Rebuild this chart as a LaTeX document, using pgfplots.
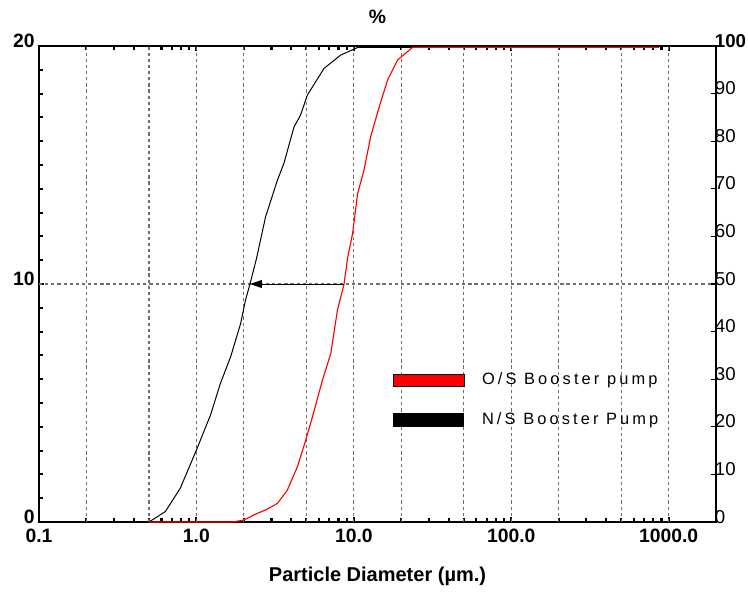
\documentclass[border=0pt]{standalone}
\usepackage{pgfplots}
\pgfplotsset{compat=1.18}
\usepackage{fontspec}
\setmainfont{Liberation Sans}
\newfontfamily\legendfont[LetterSpace=19]{Liberation Sans}
\usetikzlibrary{arrows.meta}
\definecolor{gridgray}{RGB}{110,110,110}
\begin{document}
\begin{tikzpicture}
\begin{axis}[
  name=ax,
  scale only axis,
  width=507.75pt, height=357pt,
  xmode=log,
  xmin=0.1, xmax=2000,
  ymin=0, ymax=100,
  clip=false,
  axis line style={black, line width=0.9pt},
  /pgf/number format/assume math mode=true,
  xtick={0.1,1,10,100,1000},
  xticklabels={0.1,1.0,10.0,100.0,1000.0},
  minor xtick={0.2,0.3,0.4,0.5,0.6,0.7,0.8,0.9,2,3,4,5,6,7,8,9,20,30,40,50,60,70,80,90,200,300,400,500,600,700,800,900},
  ytick={0,50,100},
  yticklabels={0,10,20},
  minor y tick num=9,
  ytick pos=left,
  tick align=inside,
  major tick length=3.5pt,
  minor tick length=3pt,
  every tick/.style={black, line width=1.6pt},
  xticklabel style={font=\fontsize{14.5}{15}\selectfont\bfseries, inner sep=2pt, yshift=-3pt},
  yticklabel style={font=\fontsize{14.5}{15}\selectfont\bfseries, yshift=4pt, inner sep=3pt},
  extra x ticks={0.2,0.5,1,2,5,10,20,50,100,200,500,1000},
  extra x tick labels={},
  extra y ticks={50},
  extra y tick labels={},
  extra tick style={grid=major, major tick length=0pt},
  major grid style={gridgray, line width=0.85pt, dash pattern=on 2.4pt off 2.2pt},
  xlabel={\fontsize{15}{16}\selectfont\bfseries Particle Diameter (µm.)},
  xlabel style={yshift=-13pt},
]
% N/S Booster Pump
\addplot[black, line width=0.75pt] coordinates {
(0.5,0) (0.635,2.2) (0.79,7.1) (1.0,15.1) (1.23,22.5) (1.42,29.1) (1.65,34.7)
(1.91,41.7) (2.05,46.6) (2.19,50) (2.41,55.4) (2.75,64.1) (3.27,71.8) (3.60,75.4)
(4.17,83.0) (4.59,85.5) (5.07,89.7) (6.47,95.3) (8.26,98.1) (10.6,99.7) (12,99.7) (870,99.7)
};
% O/S Booster pump
\addplot[red, line width=0.85pt] coordinates {
(0.5,0) (1.69,0) (2.0,0.4) (2.32,1.5) (2.82,2.7) (3.27,3.9) (3.78,6.7) (4.38,11.6)
(4.95,17.2) (5.46,22.1) (6.32,29.8) (7.14,35.4) (7.87,44.5) (8.67,50) (9.12,55.4)
(9.82,60.6) (10.57,69.0) (11.6,73.9) (12.8,81.0) (14.5,87.2) (16.4,92.9) (19.0,97.1)
(23.6,99.7) (26,99.7) (870,99.7)
};
\draw[black, line width=0.75pt, -{Triangle[length=9pt,width=6pt]}] (axis cs:8.67,50) -- (axis cs:2.19,50);
% legend
\draw[black, line width=0.6pt, fill=red] (rel axis cs:0.523,0.284) rectangle (rel axis cs:0.628,0.311);
\fill[black] (rel axis cs:0.523,0.200) rectangle (rel axis cs:0.628,0.229);
\node[anchor=west, inner sep=0pt, font=\legendfont\fontsize{12.3}{13}\selectfont] at (rel axis cs:0.654,0.297) {O/S Booster pump};
\node[anchor=west, inner sep=0pt, font=\legendfont\fontsize{12.3}{13}\selectfont] at (rel axis cs:0.654,0.214) {N/S Booster Pump};
\node[font=\fontsize{14.5}{15}\selectfont\bfseries] at ([yshift=22pt]rel axis cs:0.5,1) {\%};
\end{axis}
\begin{axis}[
  scale only axis,
  width=507.75pt, height=357pt,
  xmode=log,
  xmin=0.1, xmax=2000,
  ymin=0, ymax=100,
  hide x axis,
  axis y line*=right,
  axis line style={black, line width=0.8pt},
  /pgf/number format/assume math mode=true,
  ytick={0,10,20,30,40,50,60,70,80,90,100},
  yticklabels={0,10,20,30,40,50,60,70,80,90,\textbf{100}},
  tick align=inside,
  major tick length=3.5pt,
  every tick/.style={black, line width=0.8pt},
  yticklabel style={font=\fontsize{14}{15}\selectfont, anchor=west, inner sep=0pt, xshift=-1pt, yshift=4pt},
]
\end{axis}
\pgfresetboundingbox
\path[use as bounding box] ([shift={(-29.25pt,-59.25pt)}]ax.south west) rectangle ([shift={(531.75pt,391.5pt)}]ax.south west);
\end{tikzpicture}
\end{document}
